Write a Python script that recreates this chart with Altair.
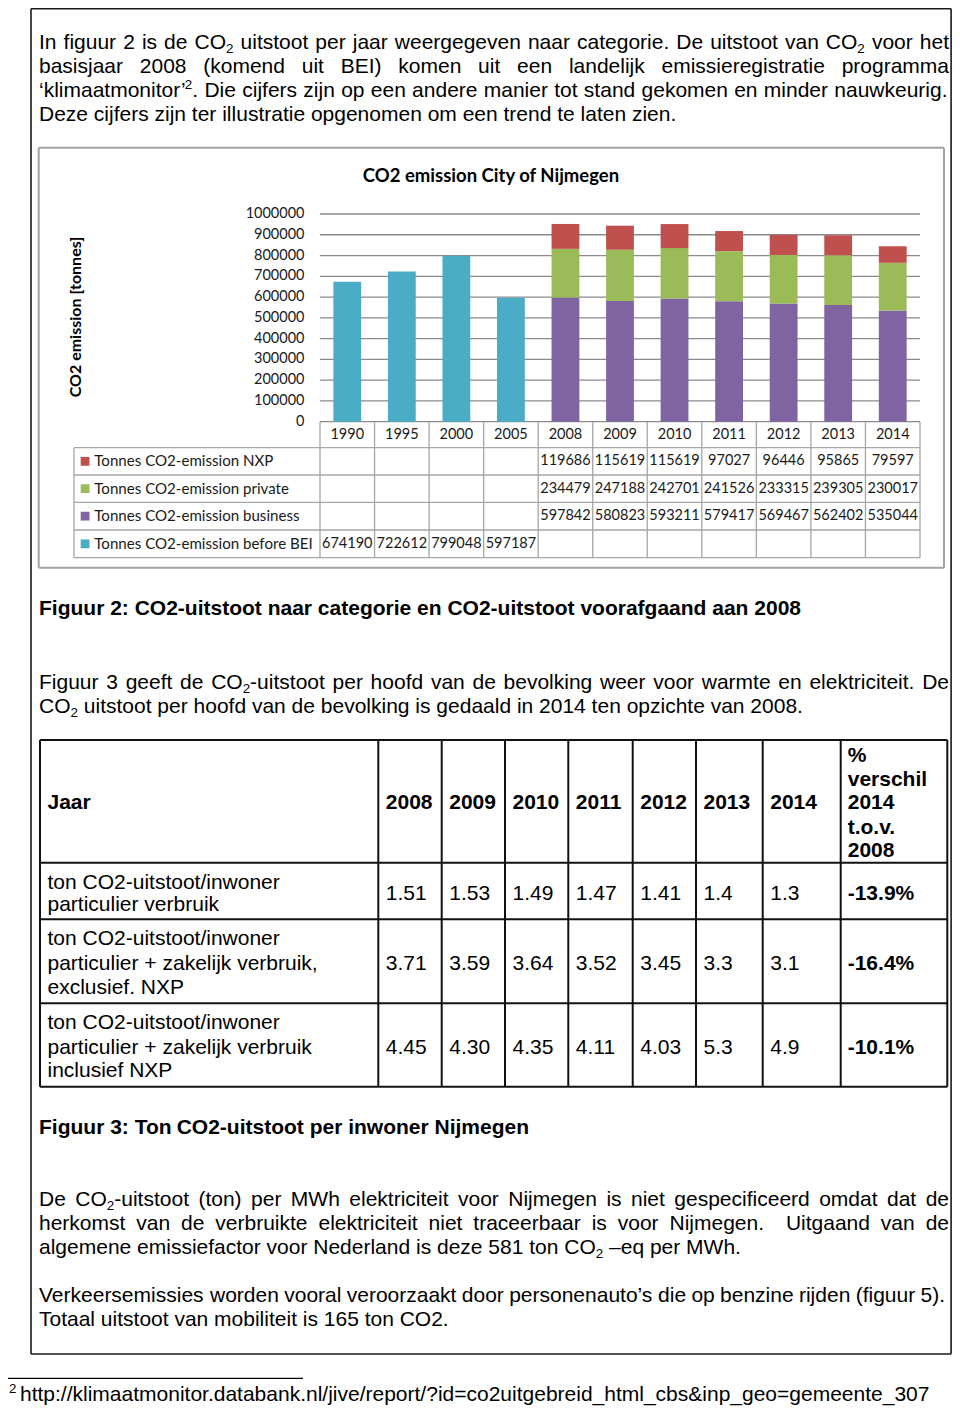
import altair as alt
import pandas as pd

# ------------------------------------------------------------------ data
years = ["1990", "1995", "2000", "2005", "2008", "2009", "2010", "2011", "2012", "2013", "2014"]
series = ["Tonnes CO2-emission NXP", "Tonnes CO2-emission private",
          "Tonnes CO2-emission business", "Tonnes CO2-emission before BEI"]
nxp = [None, None, None, None, 119686, 115619, 115619, 97027, 96446, 95865, 79597]
private = [None, None, None, None, 234479, 247188, 242701, 241526, 233315, 239305, 230017]
business = [None, None, None, None, 597842, 580823, 593211, 579417, 569467, 562402, 535044]
before_bei = [674190, 722612, 799048, 597187, None, None, None, None, None, None, None]
y_ticks = [0, 100000, 200000, 300000, 400000, 500000, 600000, 700000, 800000, 900000, 1000000]
chart_title = "CO2 emission City of Nijmegen"
y_title = "CO2 emission [tonnes]"

fig3_years = ["2008", "2009", "2010", "2011", "2012", "2013", "2014"]
fig3_head = ["%", "verschil", "2014", "t.o.v.", "2008"]
fig3_labels = [["ton CO2-uitstoot/inwoner", "particulier verbruik"],
               ["ton CO2-uitstoot/inwoner", "particulier + zakelijk verbruik,", "exclusief. NXP"],
               ["ton CO2-uitstoot/inwoner", "particulier + zakelijk verbruik", "inclusief NXP"]]
fig3_vals = [["1.51", "1.53", "1.49", "1.47", "1.41", "1.4", "1.3"],
             ["3.71", "3.59", "3.64", "3.52", "3.45", "3.3", "3.1"],
             ["4.45", "4.30", "4.35", "4.11", "4.03", "5.3", "4.9"]]
fig3_pct = ["-13.9%", "-16.4%", "-10.1%"]

para1 = ["In figuur 2 is de CO₂ uitstoot per jaar weergegeven naar categorie. De uitstoot van CO₂ voor het",
         "basisjaar 2008 (komend uit BEI) komen uit een landelijk emissieregistratie programma",
         "‘klimaatmonitor’². Die cijfers zijn op een andere manier tot stand gekomen en minder nauwkeurig.",
         "Deze cijfers zijn ter illustratie opgenomen om een trend te laten zien."]
caption2 = "Figuur 2: CO2-uitstoot naar categorie en CO2-uitstoot voorafgaand aan 2008"
para2 = ["Figuur 3 geeft de CO₂-uitstoot per hoofd van de bevolking weer voor warmte en elektriciteit. De",
         "CO₂ uitstoot per hoofd van de bevolking is gedaald in 2014 ten opzichte van 2008."]
caption3 = "Figuur 3: Ton CO2-uitstoot per inwoner Nijmegen"
para3 = ["De CO₂-uitstoot (ton) per MWh elektriciteit voor Nijmegen is niet gespecificeerd omdat dat de",
         "herkomst van de verbruikte elektriciteit niet traceerbaar is voor Nijmegen.  Uitgaand van de",
         "algemene emissiefactor voor Nederland is deze 581 ton CO₂ –eq per MWh."]
para4 = ["Verkeersemissies worden vooral veroorzaakt door personenauto’s die op benzine rijden (figuur 5).",
         "Totaal uitstoot van mobiliteit is 165 ton CO2."]
footnote = "http://klimaatmonitor.databank.nl/jive/report/?id=co2uitgebreid_html_cbs&inp_geo=gemeente_307"

# ------------------------------------------------------------------ style / layout
colors = ["#C0504D", "#9BBB59", "#8064A2", "#4BACC6"]
OFF = 8
W, H = 944, 1398
BODY_FONT = "Liberation Sans"
CHART_FONT = "Lato"

W_REG = {' ': 278, '!': 278, '"': 355, '#': 556, '$': 556, '%': 889, '&': 667, "'": 191, '(': 333, ')': 333,
         '*': 389, '+': 584, ',': 278, '-': 333, '.': 278, '/': 278, ':': 278, ';': 278, '<': 584, '=': 584,
         '>': 584, '?': 556, '@': 1015, 'A': 667, 'B': 667, 'C': 722, 'D': 722, 'E': 667, 'F': 611, 'G': 778,
         'H': 722, 'I': 278, 'J': 500, 'K': 667, 'L': 556, 'M': 833, 'N': 722, 'O': 778, 'P': 667, 'Q': 778,
         'R': 722, 'S': 667, 'T': 611, 'U': 722, 'V': 667, 'W': 944, 'X': 667, 'Y': 667, 'Z': 611, '[': 278,
         ']': 278, '_': 556, 'a': 556, 'b': 556, 'c': 500, 'd': 556, 'e': 556, 'f': 278, 'g': 556, 'h': 556,
         'i': 222, 'j': 222, 'k': 500, 'l': 222, 'm': 833, 'n': 556, 'o': 556, 'p': 556, 'q': 556, 'r': 333,
         's': 500, 't': 278, 'u': 556, 'v': 500, 'w': 722, 'x': 500, 'y': 500, 'z': 500, '‘': 222, '’': 222,
         '–': 556}
for d in "0123456789":
    W_REG[d] = 556
W_BOLD = dict(W_REG)
W_BOLD.update({':': 333, 'A': 722, 'B': 722, 'J': 556, 'K': 722, 'L': 611, 'a': 556, 'b': 611, 'c': 556,
               'd': 611, 'e': 556, 'f': 333, 'g': 611, 'h': 611, 'i': 278, 'j': 278, 'k': 556, 'l': 278,
               'm': 889, 'n': 611, 'o': 611, 'p': 611, 'q': 611, 'r': 389, 's': 556, 't': 333, 'u': 611,
               'v': 556, 'w': 778, 'x': 556, 'y': 556, 'z': 500})
KERN = {("T", "o"): -111, ("T", "a"): -111, ("T", "e"): -111}
SUB = 0.64


def text_w(s, size, bold):
    tbl = W_BOLD if bold else W_REG
    units = sum(tbl.get(c, 556) for c in s)
    units += sum(KERN.get((a, b), 0) for a, b in zip(s, s[1:]))
    return units * size / 1000.0


text_rows = []


def layout(line, x0, base, size=21, bold=False, right=None, shift=0):
    parts = []
    for w in line.split(" "):
        runs, cur = [], ""
        for ch in w:
            if ch in "₂²":
                if cur:
                    runs.append((cur, 0))
                    cur = ""
                runs.append(("2", 1 if ch == "₂" else -1))
            else:
                cur += ch
        if cur:
            runs.append((cur, 0))
        parts.append(runs)

    def rw(t, k):
        return text_w(t, size if k == 0 else size * SUB, bold)

    widths = [sum(rw(t, k) for t, k in p) for p in parts]
    if right is not None and len(parts) > 1:
        gap = (right - x0 - sum(widths)) / (len(parts) - 1)
    else:
        gap = text_w(" ", size, bold)
    x = x0
    for p, wd in zip(parts, widths):
        for t, k in p:
            dy = {0: 0, 1: 4.5, -1: -8}[k]
            text_rows.append(dict(x=x - OFF + shift, y=base + dy - OFF, text=t,
                                  size=size if k == 0 else round(size * SUB, 1), bold=bold))
            x += rw(t, k)
        x += gap


LX, RX = 39, 949
for i, (ln, base) in enumerate(zip(para1, [48.5, 72.5, 96.5, 120.5])):
    layout(ln, LX, base, right=(RX if i < 2 else (947.5 if i == 2 else None)))
layout(caption2, LX, 615, bold=True)
layout(para2[0], LX, 688.5, right=RX)
layout(para2[1], LX, 712.5)
layout(caption3, LX, 1133.5, bold=True)
layout(para3[0], LX, 1205.5, right=RX)
layout(para3[1], LX, 1229.5, right=RX)
layout(para3[2], LX, 1253.5)
layout(para4[0], LX, 1301.5, right=945)
layout(para4[1], LX, 1325.5)
layout("²", 4, 1401, shift=5)
layout(footnote, 15, 1401, shift=5)

# figure 3 table
cols3 = [40, 378.3, 441.7, 505, 568.3, 632.7, 696, 762.7, 840.7, 947.3]
hrows3 = [740, 862.7, 919.3, 1003.3, 1086.7]
layout("Jaar", cols3[0] + 7.5, 808.5, bold=True)
for i, yr in enumerate(fig3_years):
    layout(yr, cols3[i + 1] + 7.5, 808.5, bold=True)
for t, b in zip(fig3_head, [762, 785.5, 809, 834, 857]):
    layout(t, cols3[8] + 7, b, bold=True)
label_bases = [[888.5, 911], [945, 970, 993.5], [1028.5, 1053.5, 1077]]
value_bases = [899.5, 970, 1053.5]
for r in range(3):
    for t, b in zip(fig3_labels[r], label_bases[r]):
        layout(t, cols3[0] + 7.5, b)
    for i, v in enumerate(fig3_vals[r]):
        layout(v, cols3[i + 1] + 7.5, value_bases[r])
    layout(fig3_pct[r], cols3[8] + 7, value_bases[r], bold=True)

txt = pd.DataFrame(text_rows)

# ------------------------------------------------------------------ rules (pixel space)
rules = []


def seg(x, x2, y, y2, c, w):
    rules.append(dict(x=x - OFF, x2=x2 - OFF, y=y - OFF, y2=y2 - OFF, c=c, w=w))


# page frame (clamped to the drawable area)
PB = dict(l=31, r=OFF + W - 0.9, t=OFF + 0.8, b=1354)
seg(PB['l'], PB['r'], PB['t'], PB['t'], "#1a1a1a", 1.6)
seg(PB['l'], PB['r'], PB['b'], PB['b'], "#1a1a1a", 1.6)
seg(PB['l'], PB['l'], PB['t'], PB['b'], "#1a1a1a", 1.6)
seg(PB['r'], PB['r'], PB['t'], PB['b'], "#1a1a1a", 1.6)
# footnote rule
seg(OFF, 303, 1378.3, 1378.3, "#000000", 1.2)
# figure 3 table grid
for yv in hrows3:
    seg(cols3[0], cols3[-1], yv, yv, "#111111", 2)
for xv in cols3:
    seg(xv, xv, hrows3[0], hrows3[-1], "#111111", 2)
# chart 2 frame
CF = dict(l=38.7, r=944, t=147.7, b=567.7)
seg(CF['l'], CF['r'], CF['t'], CF['t'], "#a3a3a3", 2)
seg(CF['l'], CF['r'], CF['b'], CF['b'], "#a3a3a3", 2)
seg(CF['l'], CF['l'], CF['t'], CF['b'], "#a3a3a3", 2)
seg(CF['r'], CF['r'], CF['t'], CF['b'], "#a3a3a3", 2)
# chart 2 data table
PX0, PX1 = 320, 920
VY0, VY1 = 421.7, 214
trows = [421.7, 447.7, 475, 502.3, 530, 557.7]
LEGX = 74
for yv in trows[1:]:
    seg(LEGX, PX1, yv, yv, "#a6a6a6", 1.3)
seg(LEGX, LEGX, trows[1], trows[-1], "#a6a6a6", 1.3)
step = (PX1 - PX0) / len(years)
for k in range(len(years) + 1):
    xv = PX0 + k * step
    seg(xv, xv, trows[0], trows[-1], "#a6a6a6", 1.3)
rules_df = pd.DataFrame(rules)

pxX = alt.Scale(domain=[0, W], range=[0, W], nice=False, zero=False)
pxY = alt.Scale(domain=[0, H], range=[0, H], nice=False, zero=False)
band = alt.Scale(domain=years, range=[PX0 - OFF, PX1 - OFF], paddingInner=0.49, paddingOuter=0.245)
vscale = alt.Scale(domain=[0, 1000000], range=[VY0 - OFF, VY1 - OFF], nice=False, zero=True)
cscale = alt.Scale(domain=series, range=colors)

rule_layer = alt.Chart(rules_df).mark_rule().encode(
    x=alt.X("x:Q", scale=pxX, axis=None), x2="x2:Q",
    y=alt.Y("y:Q", scale=pxY, axis=None), y2="y2:Q",
    color=alt.Color("c:N", scale=None), strokeWidth=alt.StrokeWidth("w:Q", scale=None))

# gridlines + tick labels
grid_df = pd.DataFrame({"t": y_ticks, "label": [str(v) for v in y_ticks]})
grid_layer = alt.Chart(grid_df).mark_rule(color="#8a8a8a", strokeWidth=1.3).encode(
    y=alt.Y("t:Q", scale=vscale, axis=None),
    x=alt.value(PX0 - OFF), x2=alt.value(PX1 - OFF))
tick_layer = alt.Chart(grid_df).mark_text(font=CHART_FONT, fontSize=14.5, align="right",
                                          baseline="middle", color="#1a1a1a").encode(
    y=alt.Y("t:Q", scale=vscale, axis=None), x=alt.value(304.5 - OFF), text="label:N")

# bars
bar_rows = []
for s, vals, o in [(series[2], business, 0), (series[1], private, 1), (series[0], nxp, 2),
                   (series[3], before_bei, 0)]:
    for yr, v in zip(years, vals):
        if v is not None:
            bar_rows.append(dict(year=yr, series=s, value=v, ord=o))
bar_df = pd.DataFrame(bar_rows)
bar_layer = alt.Chart(bar_df).mark_bar().encode(
    x=alt.X("year:N", scale=band, axis=None, sort=years),
    y=alt.Y("value:Q", scale=vscale, axis=None, stack="zero"),
    color=alt.Color("series:N", scale=cscale, legend=None),
    order=alt.Order("ord:Q"))

# data table texts
row_c = [(trows[i] + trows[i + 1]) / 2 for i in range(5)]
cell_rows = [dict(year=yr, y=row_c[0] - OFF, text=yr) for yr in years]
for si, vals in enumerate([nxp, private, business, before_bei]):
    for yr, v in zip(years, vals):
        if v is not None:
            cell_rows.append(dict(year=yr, y=row_c[si + 1] - OFF, text=str(v)))
cell_df = pd.DataFrame(cell_rows)
cell_layer = alt.Chart(cell_df).mark_text(font=CHART_FONT, fontSize=14.5, align="center",
                                          baseline="middle", color="#1a1a1a").encode(
    x=alt.X("year:N", scale=band, axis=None, sort=years),
    y=alt.Y("y:Q", scale=pxY, axis=None), text="text:N")

# legend keys and labels in the data table
leg_df = pd.DataFrame({"series": series,
                       "yc": [c - OFF for c in row_c[1:]]})
leg_df["x"] = 80.7 - OFF
leg_df["x2"] = 89.5 - OFF
leg_df["y"] = leg_df["yc"] - 4.4
leg_df["y2"] = leg_df["yc"] + 4.4
leg_df["lx"] = 94.3 - OFF
key_layer = alt.Chart(leg_df).mark_rect().encode(
    x=alt.X("x:Q", scale=pxX, axis=None), x2="x2:Q",
    y=alt.Y("y:Q", scale=pxY, axis=None), y2="y2:Q",
    color=alt.Color("series:N", scale=cscale, legend=None))
leg_text = alt.Chart(leg_df).mark_text(font=CHART_FONT, fontSize=15.1, align="left",
                                       baseline="middle", color="#1a1a1a").encode(
    x=alt.X("lx:Q", scale=pxX, axis=None), y=alt.Y("yc:Q", scale=pxY, axis=None), text="series:N")

# chart titles
title_df = pd.DataFrame({"text": [chart_title], "x": [491 - OFF], "y": [182 - OFF]})
title_layer = alt.Chart(title_df).mark_text(font=CHART_FONT, fontSize=18.5, fontWeight="bold",
                                            align="center", baseline="alphabetic", color="#000").encode(
    x=alt.X("x:Q", scale=pxX, axis=None), y=alt.Y("y:Q", scale=pxY, axis=None), text="text:N")
ytitle_df = pd.DataFrame({"text": [y_title], "x": [76 - OFF], "y": [317 - OFF]})
ytitle_layer = alt.Chart(ytitle_df).mark_text(font=CHART_FONT, fontSize=16, fontWeight="bold",
                                              align="center", baseline="middle", angle=270,
                                              color="#000").encode(
    x=alt.X("x:Q", scale=pxX, axis=None), y=alt.Y("y:Q", scale=pxY, axis=None), text="text:N")

# body text
body_norm = alt.Chart(txt[~txt["bold"]]).mark_text(font=BODY_FONT, align="left", baseline="alphabetic",
                                                   color="#000").encode(
    x=alt.X("x:Q", scale=pxX, axis=None), y=alt.Y("y:Q", scale=pxY, axis=None),
    text="text:N", size=alt.Size("size:Q", scale=None))
body_bold = alt.Chart(txt[txt["bold"]]).mark_text(font=BODY_FONT, fontWeight="bold", align="left",
                                                  baseline="alphabetic", color="#000").encode(
    x=alt.X("x:Q", scale=pxX, axis=None), y=alt.Y("y:Q", scale=pxY, axis=None),
    text="text:N", size=alt.Size("size:Q", scale=None))

chart = alt.layer(
    grid_layer, bar_layer, rule_layer, tick_layer, cell_layer, key_layer, leg_text,
    title_layer, ytitle_layer, body_norm, body_bold
).resolve_scale(
    x="independent", y="independent", color="independent"
).properties(
    width=W, height=H, padding=0, autosize=alt.AutoSizeParams(type="none"), background="white"
).configure_view(stroke=None)

chart.save("out.html", embed_options={"renderer": "svg", "actions": False})
